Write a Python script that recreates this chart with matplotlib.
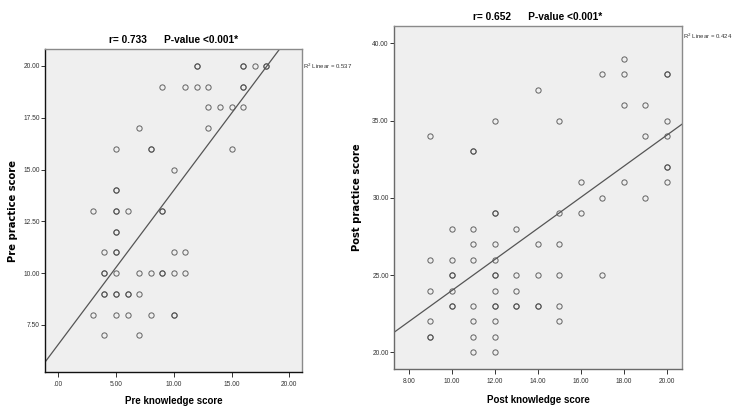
import matplotlib
matplotlib.use("Agg")
import matplotlib.pyplot as plt
import numpy as np
from matplotlib import font_manager as fm

# ---------------- data ----------------
# Left panel: Pre knowledge score (x) vs Pre practice score (y)
pre_knowledge = [12, 12, 16, 16, 17, 18, 18,
                 9, 11, 12, 13, 16, 16,
                 13, 14, 15, 16,
                 7, 13,
                 5, 8, 8, 15,
                 10,
                 5, 5,
                 3, 5, 5, 6, 9, 9,
                 5, 5,
                 4, 5, 5, 10, 11,
                 4, 4, 5, 7, 8, 9, 9, 10, 11,
                 4, 4, 5, 5, 6, 6, 7,
                 3, 5, 6, 8, 10, 10,
                 4, 7]
pre_practice = [20, 20, 20, 20, 20, 20, 20,
                19, 19, 19, 19, 19, 19,
                18, 18, 18, 18,
                17, 17,
                16, 16, 16, 16,
                15,
                14, 14,
                13, 13, 13, 13, 13, 13,
                12, 12,
                11, 11, 11, 11, 11,
                10, 10, 10, 10, 10, 10, 10, 10, 10,
                9, 9, 9, 9, 9, 9, 9,
                8, 8, 8, 8, 8, 8,
                7, 7]

# Right panel: Post knowledge score (x) vs Post practice score (y)
post_knowledge = [18,
                  17, 18, 20, 20,
                  14,
                  18, 19,
                  12, 15, 20,
                  9, 19, 20,
                  11, 11,
                  20, 20,
                  16, 18, 20,
                  17, 19,
                  12, 12, 15, 16,
                  10, 11, 13,
                  11, 12, 14, 15,
                  9, 10, 11, 12,
                  10, 10, 12, 12, 13, 14, 15, 17,
                  9, 10, 12, 13,
                  10, 10, 11, 12, 12, 13, 13, 14, 14, 15,
                  9, 11, 12, 15,
                  9, 9, 11, 12,
                  11, 12]
post_practice = [39,
                 38, 38, 38, 38,
                 37,
                 36, 36,
                 35, 35, 35,
                 34, 34, 34,
                 33, 33,
                 32, 32,
                 31, 31, 31,
                 30, 30,
                 29, 29, 29, 29,
                 28, 28, 28,
                 27, 27, 27, 27,
                 26, 26, 26, 26,
                 25, 25, 25, 25, 25, 25, 25, 25,
                 24, 24, 24, 24,
                 23, 23, 23, 23, 23, 23, 23, 23, 23, 23,
                 22, 22, 22, 22,
                 21, 21, 21, 21,
                 20, 20]

# Fit lines as drawn in the source (slope, intercept)
left_fit = [0.744, 6.56]
right_fit = [1.007, 13.92]

left_title = "r= 0.733      P-value <0.001*"
right_title = "r= 0.652      P-value <0.001*"
left_r2 = "R$^2$ Linear = 0.537"
right_r2 = "R$^2$ Linear = 0.424"

left_xticks = [0, 5, 10, 15, 20]
left_xticklabels = [".00", "5.00", "10.00", "15.00", "20.00"]
left_yticks = [7.5, 10, 12.5, 15, 17.5, 20]
left_yticklabels = ["7.50", "10.00", "12.50", "15.00", "17.50", "20.00"]
right_xticks = [8, 10, 12, 14, 16, 18, 20]
right_xticklabels = ["8.00", "10.00", "12.00", "14.00", "16.00", "18.00", "20.00"]
right_yticks = [20, 25, 30, 35, 40]
right_yticklabels = ["20.00", "25.00", "30.00", "35.00", "40.00"]

# ---------------- fonts ----------------
avail = {f.name for f in fm.fontManager.ttflist}
narrow = "Liberation Sans Narrow" if "Liberation Sans Narrow" in avail else "Liberation Sans"
wide = "DejaVu Sans"

W, H = 732, 409
fig = plt.figure(figsize=(W / 100, H / 100), dpi=100)
fig.patch.set_facecolor("white")

def px_axes(x0, y0, x1, y1):
    return fig.add_axes([x0 / W, 1 - y1 / H, (x1 - x0) / W, (y1 - y0) / H])

face = "#EFEFEF"
mk_edge = "#4a4a4a"

def style(ax, xt, xtl, yt, ytl, left_black):
    ax.set_facecolor(face)
    ax.set_xticks(xt)
    ax.set_xticklabels(xtl, fontfamily=narrow, fontsize=4.8, color="#333333")
    ax.set_yticks(yt)
    ax.set_yticklabels(ytl, fontfamily=narrow, fontsize=4.8, color="#333333")
    ax.tick_params(axis="x", direction="out", length=3.5, width=0.7, pad=3, colors="#333333")
    ax.tick_params(axis="y", direction="out", length=3.0, width=0.7, pad=0.8, colors="#333333")
    for s in ["top", "right"]:
        ax.spines[s].set_color("#8a8a8a")
        ax.spines[s].set_linewidth(1.0)
    for s in ["left", "bottom"]:
        ax.spines[s].set_color("#111111" if left_black else "#6a6a6a")
        ax.spines[s].set_linewidth(1.0)

# ---- left panel ----
ax1 = px_axes(45, 49, 302, 372)
ax1.set_xlim(-1.15, 21.1)
ax1.set_ylim(5.23, 20.82)
ax1.plot(pre_knowledge, pre_practice, linestyle="none", marker="o", markersize=3.8,
         markerfacecolor="none", markeredgecolor=mk_edge, markeredgewidth=0.7, alpha=0.85)
xl = np.array(ax1.get_xlim())
ax1.plot(xl, left_fit[0] * xl + left_fit[1], color="#555555", lw=0.9)
style(ax1, left_xticks, left_xticklabels, left_yticks, left_yticklabels, True)
ax1.set_xlabel("Pre knowledge score", fontfamily=narrow, fontweight="bold", fontsize=7.0)
ax1.xaxis.set_label_coords(0.5, -(396 - 372) / 323)
ax1.set_ylabel("Pre practice score", fontfamily=wide, fontweight="bold", fontsize=7.2)
ax1.yaxis.set_label_coords((18 - 45) / 257, 0.5)
ax1.set_title(left_title, fontfamily=narrow, fontweight="bold", fontsize=7.3, pad=4)
ax1.text(1.003, 0.945, left_r2, transform=ax1.transAxes, fontfamily=narrow, fontsize=4.3,
         color="#333333", ha="left", va="center")

# ---- right panel ----
ax2 = px_axes(394, 26, 682, 369)
ax2.set_xlim(7.32, 20.70)
ax2.set_ylim(18.92, 41.12)
ax2.plot(post_knowledge, post_practice, linestyle="none", marker="o", markersize=3.8,
         markerfacecolor="none", markeredgecolor=mk_edge, markeredgewidth=0.7, alpha=0.85)
xr = np.array(ax2.get_xlim())
ax2.plot(xr, right_fit[0] * xr + right_fit[1], color="#555555", lw=0.9)
style(ax2, right_xticks, right_xticklabels, right_yticks, right_yticklabels, False)
ax2.set_xlabel("Post knowledge score", fontfamily=narrow, fontweight="bold", fontsize=7.0)
ax2.xaxis.set_label_coords(0.5, -(395 - 369) / 343)
ax2.set_ylabel("Post practice score", fontfamily=wide, fontweight="bold", fontsize=7.2)
ax2.yaxis.set_label_coords((362 - 394) / 288, 0.5)
ax2.set_title(right_title, fontfamily=narrow, fontweight="bold", fontsize=7.3, pad=4)
ax2.text(1.003, 0.97, right_r2, transform=ax2.transAxes, fontfamily=narrow, fontsize=4.3,
         color="#333333", ha="left", va="center")

fig.savefig("out.png", dpi=100, facecolor="white")
